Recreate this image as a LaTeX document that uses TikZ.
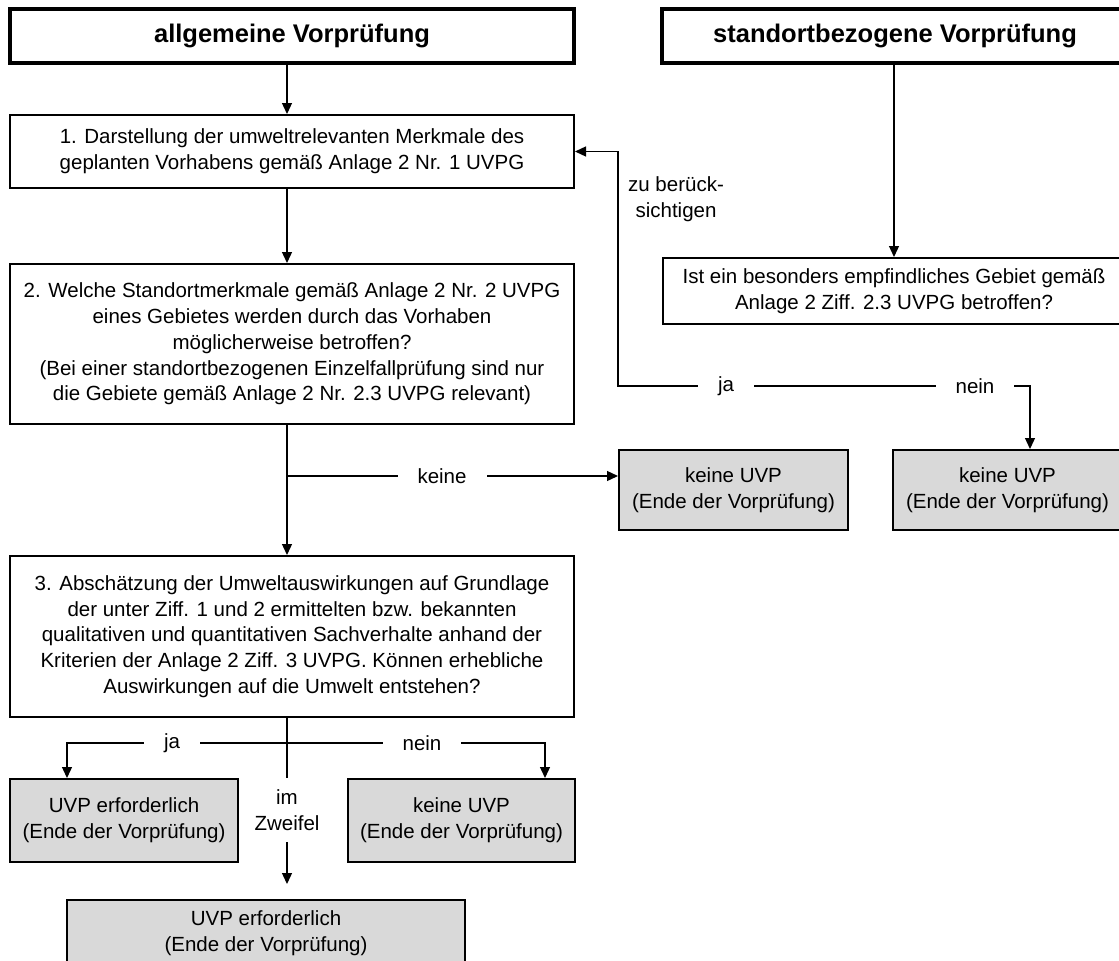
\documentclass[tikz,border=0pt]{standalone}
\usepackage{fontspec}
\setmainfont{Liberation Sans}
\usetikzlibrary{arrows.meta}

\begin{document}
\begin{tikzpicture}[x=1pt, y=-1pt,
    font=\fontsize{20.5}{25.7}\selectfont,
    head/.style={draw, line width=3.3pt, minimum height=54pt, inner sep=0pt,
        font=\fontsize{25.5}{30}\selectfont\bfseries},
    stepbox/.style={draw, line width=2pt, align=center, inner sep=0pt},
    endbox/.style={stepbox, fill=black!15},
    lbl/.style={fill=white, inner xsep=20pt, inner ysep=2pt, align=center},
    line/.style={line width=1.3pt},
    arr/.style={line, -{Triangle[length=11pt,width=10pt]}}]
    \useasboundingbox (0,0) rectangle (1119,961);

    \node[head, minimum width=564pt] (allg) at (292,36) {allgemeine Vorprüfung};
    \node[head, minimum width=466pt] (stand) at (895,36) {standortbezogene Vorprüfung};

    \node[stepbox, minimum width=564pt, minimum height=73pt] (s1) at (292,151.5)
        {1. Darstellung der umweltrelevanten Merkmale des\\
         geplanten Vorhabens gemäß Anlage 2 Nr. 1 UVPG};
    \node[stepbox, minimum width=564pt, minimum height=160pt] (s2) at (292,344)
        {2. Welche Standortmerkmale gemäß Anlage 2 Nr. 2 UVPG\\
         eines Gebietes werden durch das Vorhaben\\
         möglicherweise betroffen?\\
         (Bei einer standortbezogenen Einzelfallprüfung sind nur\\
         die Gebiete gemäß Anlage 2 Nr. 2.3 UVPG relevant)};
    \node[stepbox, minimum width=564pt, minimum height=161pt] (s3) at (292,636.5)
        {3. Abschätzung der Umweltauswirkungen auf Grundlage\\
         der unter Ziff. 1 und 2 ermittelten bzw. bekannten\\
         qualitativen und quantitativen Sachverhalte anhand der\\
         Kriterien der Anlage 2 Ziff. 3 UVPG. Können erhebliche\\
         Auswirkungen auf die Umwelt entstehen?};
    \node[stepbox, minimum width=462pt, minimum height=66pt] (q) at (894,291)
        {Ist ein besonders empfindliches Gebiet gemäß\\
         Anlage 2 Ziff. 2.3 UVPG betroffen?};

    \node[endbox, minimum width=229pt, minimum height=80pt] (e1) at (733.5,490)
        {keine UVP\\(Ende der Vorprüfung)};
    \node[endbox, minimum width=229pt, minimum height=80pt] (e2) at (1007.5,490)
        {keine UVP\\(Ende der Vorprüfung)};
    \node[endbox, minimum width=228pt, minimum height=83pt] (eA) at (124,820.5)
        {UVP erforderlich\\(Ende der Vorprüfung)};
    \node[endbox, minimum width=227pt, minimum height=83pt] (eB) at (461.5,820.5)
        {keine UVP\\(Ende der Vorprüfung)};
    \node[endbox, minimum width=398pt, minimum height=66pt] (eC) at (266,933)
        {UVP erforderlich\\(Ende der Vorprüfung)};

    \coordinate (ax) at (287,0);
    \coordinate (kb) at (287,476);
    \coordinate (jn) at (850,386);
    \coordinate (bk) at (618,386);
    \coordinate (sp) at (287,743);

    \draw[arr] (allg.south -| ax) -- (s1.north -| ax);
    \draw[arr] (s1.south -| ax) -- (s2.north -| ax);
    \draw[arr] (s2.south -| ax) -- (s3.north -| ax);
    \draw[arr] (kb) -- (kb -| e1.west);
    \draw[arr] (stand.south -| q.north) -- (q.north);
    \draw[arr] (jn) -- (bk) |- (s1.east);
    \draw[arr] (jn) -| ([xshift=22.5pt]e2.north);

    \draw[line] (s3.south -| ax) -- (sp);
    \draw[arr] (sp) -| ([xshift=-57pt]eA.north);
    \draw[arr] (sp) -| ([xshift=83.5pt]eB.north);
    \draw[arr, shorten >=15pt] (sp) -- (sp |- eC.north);

    \node[lbl] (keine) at (442,476) {keine};
    \node[lbl] (ja1) at (726,386) {ja};
    \node[lbl] (nein1) at (975,386) {nein};
    \foreach \x/\t/\n in {172/ja/ja2, 422/nein/nein2}
        \node[lbl] (\n) at (\x,743) {\t};
    \node[lbl, inner xsep=8pt, inner ysep=12pt] (zw) at (287,810) {im\\Zweifel};
    \node[align=center, inner sep=0pt] (zub) at (676,199) {zu berück-\\sichtigen};
\end{tikzpicture}
\end{document}
